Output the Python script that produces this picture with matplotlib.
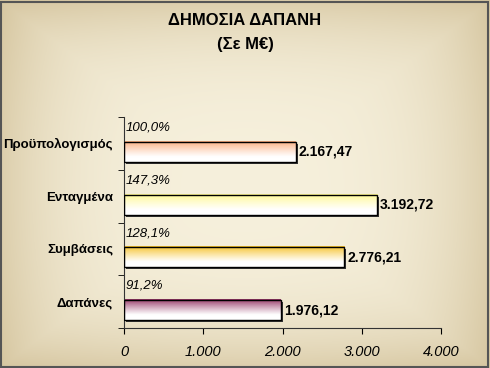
import numpy as np
import matplotlib.pyplot as plt
import matplotlib.transforms as mtransforms
from matplotlib.patches import Rectangle

plt.rcParams['font.family'] = ['Liberation Sans', 'DejaVu Sans']

# data (top to bottom)
categories = ['Προϋπολογισμός', 'Ενταγμένα', 'Συμβάσεις', 'Δαπάνες']
values = [2167.47, 3192.72, 2776.21, 1976.12]
value_labels = ['2.167,47', '3.192,72', '2.776,21', '1.976,12']
pct_labels = ['100,0%', '147,3%', '128,1%', '91,2%']
xticks = [0, 1000, 2000, 3000, 4000]
xtick_labels = ['0', '1.000', '2.000', '3.000', '4.000']
bar_colors = [(250, 170, 120), (255, 248, 140), (245, 190, 30), (145, 45, 95)]

fig = plt.figure(figsize=[4.9, 3.68], dpi=100)

# background with darker edges
bg = fig.add_axes([0, 0, 1, 1])
yy, xx = np.mgrid[-1:1:200j, -1:1:260j]
r = np.clip(np.maximum(np.abs(xx) ** 4, np.abs(yy) ** 4) * 0.6 + (xx ** 2 + yy ** 2) * 0.2, 0, 1)
c_in = np.array([246, 240, 220]) / 255
c_out = np.array([214, 198, 160]) / 255
img = c_in[None, None, :] * (1 - r[..., None]) + c_out[None, None, :] * r[..., None]
bg.imshow(img, extent=[0, 1, 0, 1], aspect='auto')
bg.add_patch(Rectangle((0.002, 0.003), 0.994, 0.992, fill=False, edgecolor='#555555', lw=1.5))
bg.set_xlim(0, 1)
bg.set_ylim(0, 1)
bg.axis('off')

ax = fig.add_axes([124 / 490, 1 - 328 / 368, 317 / 490, 211 / 368])
ax.patch.set_alpha(0)
n = len(categories)
ypos = np.arange(n)[::-1]  # top category at highest position
bar_h = 0.38
off = -0.16

shadow = ax.transData + mtransforms.ScaledTranslation(2 / 100, -2 / 100, fig.dpi_scale_trans)
for y, v, col in zip(ypos, values, bar_colors):
    yc = y + off
    ax.add_patch(Rectangle((0, yc - bar_h / 2), v, bar_h, facecolor='#333333', edgecolor='none',
                           transform=shadow, zorder=1))
    top = np.array(col) / 255
    t = np.linspace(0, 1, 64)
    w = np.clip(t / 0.75, 0, 1) ** 0.8
    grad = top[None, :] * (1 - w[:, None]) + np.ones(3)[None, :] * w[:, None]
    ax.imshow(grad[:, None, :], extent=[0, v, yc - bar_h / 2, yc + bar_h / 2],
              aspect='auto', origin='upper', zorder=2)
    ax.add_patch(Rectangle((0, yc - bar_h / 2), v, bar_h, facecolor='none', edgecolor='black',
                           lw=1.0, zorder=3))

for y, v, vl, pl in zip(ypos, values, value_labels, pct_labels):
    ax.text(v + 40, y + off, vl, ha='left', va='center', fontsize=10, fontweight='bold')
    ax.text(15, y + 0.3, pl, ha='left', va='center', fontsize=9.5, fontstyle='italic')

ax.set_xlim(0, 4000)
ax.set_ylim(-0.5, n - 0.5)
ax.set_xticks(xticks)
ax.set_xticklabels(xtick_labels, fontsize=10.5, fontstyle='italic')
ax.set_yticks(ypos)
ax.set_yticklabels(categories, fontsize=9.5, fontweight='bold')
ax.tick_params(axis='y', length=0, pad=8)
ax.set_yticks(np.arange(n + 1) - 0.5, minor=True)
ax.tick_params(axis='y', which='minor', length=4, direction='out')
ax.tick_params(axis='x', length=4, direction='out', pad=8)
for s in ['top', 'right']:
    ax.spines[s].set_visible(False)
ax.spines['left'].set_color('#333333')
ax.spines['bottom'].set_color('#333333')

fig.text(0.5, 0.945, 'ΔΗΜΟΣΙΑ ΔΑΠΑΝΗ', ha='center', va='center', fontsize=12, fontweight='bold')
fig.text(0.5, 0.880, '(Σε Μ€)', ha='center', va='center', fontsize=12, fontweight='bold')

plt.savefig('out.png', dpi=100)
